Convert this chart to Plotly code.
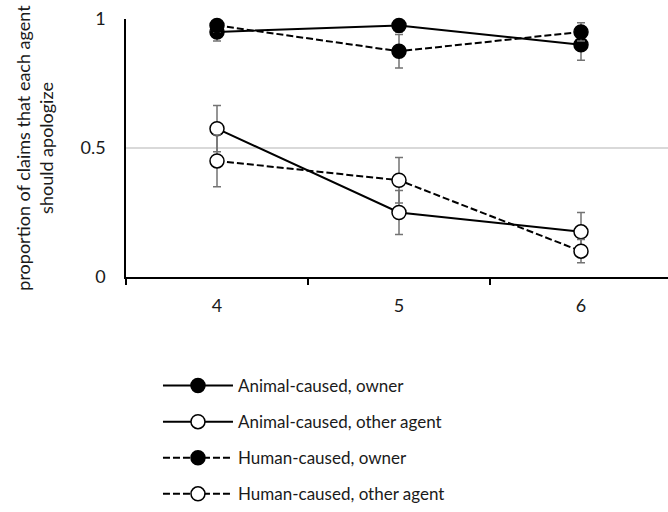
import plotly.graph_objects as go

categories = [4, 5, 6]
tick_labels = ["4", "5", "6"]

animal_owner = [0.95, 0.975, 0.90]
animal_owner_err = [0.035, 0.025, 0.06]
animal_other = [0.575, 0.25, 0.175]
animal_other_err = [0.09, 0.085, 0.075]
human_owner = [0.975, 0.875, 0.95]
human_owner_err = [0.025, 0.065, 0.035]
human_other = [0.45, 0.375, 0.10]
human_other_err = [0.10, 0.088, 0.045]

series = [
    ("Animal-caused, owner", animal_owner, animal_owner_err, "solid", "black"),
    ("Animal-caused, other agent", animal_other, animal_other_err, "solid", "white"),
    ("Human-caused, owner", human_owner, human_owner_err, "7px,3px", "black"),
    ("Human-caused, other agent", human_other, human_other_err, "7px,3px", "white"),
]

FONT = "Lato"
fig = go.Figure()
for i, (name, vals, errs, dash, fill) in enumerate(series):
    fig.add_trace(go.Scatter(
        x=categories, y=vals, name=name, mode="lines+markers",
        legendgroup=f"g{i}",
        line=dict(color="black", width=2, dash=dash),
        marker=dict(symbol="circle", size=14, color=fill, line=dict(color="black", width=1.5)),
        error_y=dict(type="data", array=errs, visible=True, color="#737373", thickness=1.5, width=4),
        cliponaxis=False,
    ))

fig.update_layout(
    width=668, height=512,
    margin=dict(l=126, r=0, t=19, b=230),
    plot_bgcolor="white", paper_bgcolor="white",
    font=dict(family=FONT, size=17, color="#000000"),
    showlegend=True,
    legend=dict(
        x=0.059, y=-0.353, xanchor="left", yanchor="top",
        traceorder="grouped", tracegroupgap=11,
        itemwidth=70, font=dict(family=FONT, size=17, color="#1a1a1a"),
        bgcolor="rgba(0,0,0,0)",
    ),
    xaxis=dict(
        range=[3.5, 6.478], tickvals=categories, ticktext=tick_labels,
        showgrid=False, zeroline=False, showline=True, linecolor="black", linewidth=1.5,
        ticks="", ticklabelstandoff=12, automargin=False,
        minor=dict(tick0=3.5, dtick=1, ticks="outside", ticklen=6, tickcolor="black", tickwidth=1.5, showgrid=False),
        tickfont=dict(size=18, color="#1a1a1a"),
    ),
    yaxis=dict(
        range=[0, 1], tickvals=[0, 0.5, 1], ticktext=["0", "0.5", "1"],
        showgrid=True, gridcolor="#d9d9d9", gridwidth=1.5,
        zeroline=False, showline=True, linecolor="black", linewidth=1.5,
        ticks="", ticklabelstandoff=15, automargin=False,
        tickfont=dict(size=18, color="#1a1a1a"),
        title=dict(text="proportion of claims that each agent<br>should apologize",
                   font=dict(size=18, color="#1a1a1a"), standoff=22),
    ),
)

fig.write_html("out.html", config={"displayModeBar": False},
               post_script="document.body.style.margin='0';")
